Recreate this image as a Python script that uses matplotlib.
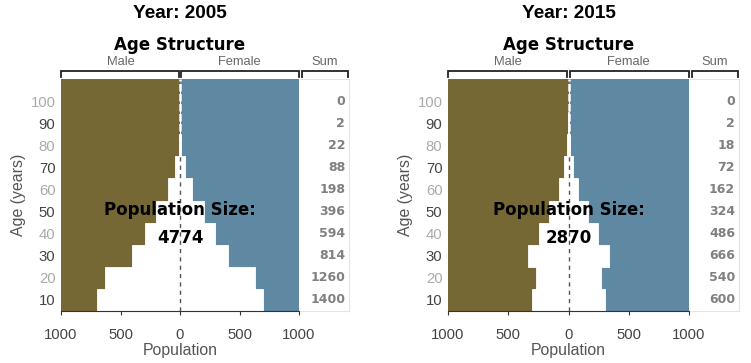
import matplotlib.pyplot as plt
import matplotlib.transforms as mtransforms

ages = [10, 20, 30, 40, 50, 60, 70, 80, 90, 100]

male_2005 = [700, 630, 407, 297, 198, 99, 44, 11, 1, 0]
female_2005 = [700, 630, 407, 297, 198, 99, 44, 11, 1, 0]
sum_2005 = [1400, 1260, 814, 594, 396, 198, 88, 22, 2, 0]

male_2015 = [300, 270, 333, 243, 162, 81, 36, 9, 1, 0]
female_2015 = [300, 270, 333, 243, 162, 81, 36, 9, 1, 0]
sum_2015 = [600, 540, 666, 486, 324, 162, 72, 18, 2, 0]

years = ['2005', '2015']
totals = [4774, 2870]

xticks = [-1000, -500, 0, 500, 1000]
xticklabels = ['1000', '500', '0', '500', '1000']

BROWN = '#766834'
BLUE = '#5f88a2'
W, H = 751, 363


def px(x0, y_top, w, h):
    # pixel box -> figure fraction rect
    return [x0 / W, 1 - (y_top + h) / H, w / W, h / H]


def draw_panel(fig, x_off, plot_w, year, male, female, sums, total):
    ax = fig.add_axes(px(x_off + 61, 79, plot_w, 232))
    sax = fig.add_axes(px(x_off + 61 + plot_w + 1, 79, 49, 232))

    ax.set_xlim(-1000, 1000)
    ax.set_ylim(5, 110)
    ax.axvspan(-1000, 0, color=BROWN, lw=0, zorder=0)
    ax.axvspan(0, 1000, color=BLUE, lw=0, zorder=0)
    ax.axvline(0, color='white', lw=1.8, ls=(0, (3, 1)), zorder=1)
    ax.barh(ages, [-m for m in male], height=10, color='white', edgecolor='white', lw=0.6, zorder=2)
    ax.barh(ages, female, height=10, color='white', edgecolor='white', lw=0.6, zorder=2)
    top = max(a for a, m in zip(ages, male) if m > 20) + 5
    ax.plot([0, 0], [5, top], color='#555555', lw=1, ls=(0, (3, 3)), zorder=3)

    for s in ['top', 'left', 'right']:
        ax.spines[s].set_visible(False)
    ax.spines['bottom'].set_color('#333333')
    ax.spines['bottom'].set_zorder(5)
    ax.set_xticks(xticks)
    ax.set_xticklabels(xticklabels)
    ax.tick_params(axis='x', length=3, color='#333333', labelsize=10.7, labelcolor='#444444', pad=9)
    ax.set_yticks(ages)
    ax.set_yticklabels([str(a) for a in ages])
    ax.tick_params(axis='y', length=0, labelsize=10.7, pad=4)
    for i, lab in enumerate(ax.get_yticklabels()):
        lab.set_color('#444444' if i % 2 == 0 else '#aaaaaa')
    ax.set_xlabel('Population', fontsize=11.4, color='#555555', labelpad=1)
    ax.set_ylabel('Age (years)', fontsize=11.4, color='#555555', labelpad=3)

    ax.text(0, 50.5, 'Population Size:', ha='center', va='center', fontsize=12,
            fontweight='bold', family='DejaVu Sans', color='black', zorder=6)
    ax.text(0, 38, str(total), ha='center', va='center', fontsize=12,
            fontweight='bold', family='DejaVu Sans', color='black', zorder=6)

    # sum column
    sax.set_xlim(0, 1)
    sax.set_ylim(5, 110)
    sax.set_xticks([])
    sax.set_yticks([])
    sax.spines['left'].set_visible(False)
    for s in ['top', 'right', 'bottom']:
        sax.spines[s].set_color('#e4e4e4')
    for a, v in zip(ages, sums):
        sax.text(0.92, a, str(v), ha='right', va='center', fontsize=9,
                 fontweight='bold', family='DejaVu Sans', color='#808080')

    # brackets above the columns
    tr = mtransforms.blended_transform_factory(ax.transData, ax.transAxes)
    y1, y0 = 1.0345, 1.008
    for xa, xb in [(-1000, -12), (12, 1000)]:
        ax.plot([xa, xa, xb, xb], [y0, y1, y1, y0], color='#222222', lw=1.3,
                transform=tr, clip_on=False, solid_joinstyle='miter')
    ax.plot([0.04, 0.04, 0.98, 0.98], [y0, y1, y1, y0], color='#222222', lw=1.3,
            transform=sax.transAxes, clip_on=False, solid_joinstyle='miter')
    ax.text(-500, 1.075, 'Male', transform=tr, ha='center', va='center', fontsize=9.3, color='#666666')
    ax.text(500, 1.075, 'Female', transform=tr, ha='center', va='center', fontsize=9.3, color='#666666')
    sax.text(0.5, 1.075, 'Sum', transform=sax.transAxes, ha='center', va='center', fontsize=9.3, color='#666666')

    ax.text(0, 1.145, 'Age Structure', transform=tr, ha='center', va='center',
            fontsize=12, fontweight='bold', family='DejaVu Sans', color='black')
    fig.text((x_off + 61 + plot_w / 2) / W, 1 - 14 / H, 'Year: ' + year, ha='center', va='center',
             fontsize=13.7, fontweight='bold', family='Liberation Sans', color='black')


plt.rcParams['font.family'] = ['Liberation Sans', 'DejaVu Sans']
fig = plt.figure(figsize=(W / 100, H / 100), dpi=100)

draw_panel(fig, 0, 238, years[0], male_2005, female_2005, sum_2005, totals[0])
draw_panel(fig, 387, 241, years[1], male_2015, female_2015, sum_2015, totals[1])

fig.savefig('out.png', dpi=100)
